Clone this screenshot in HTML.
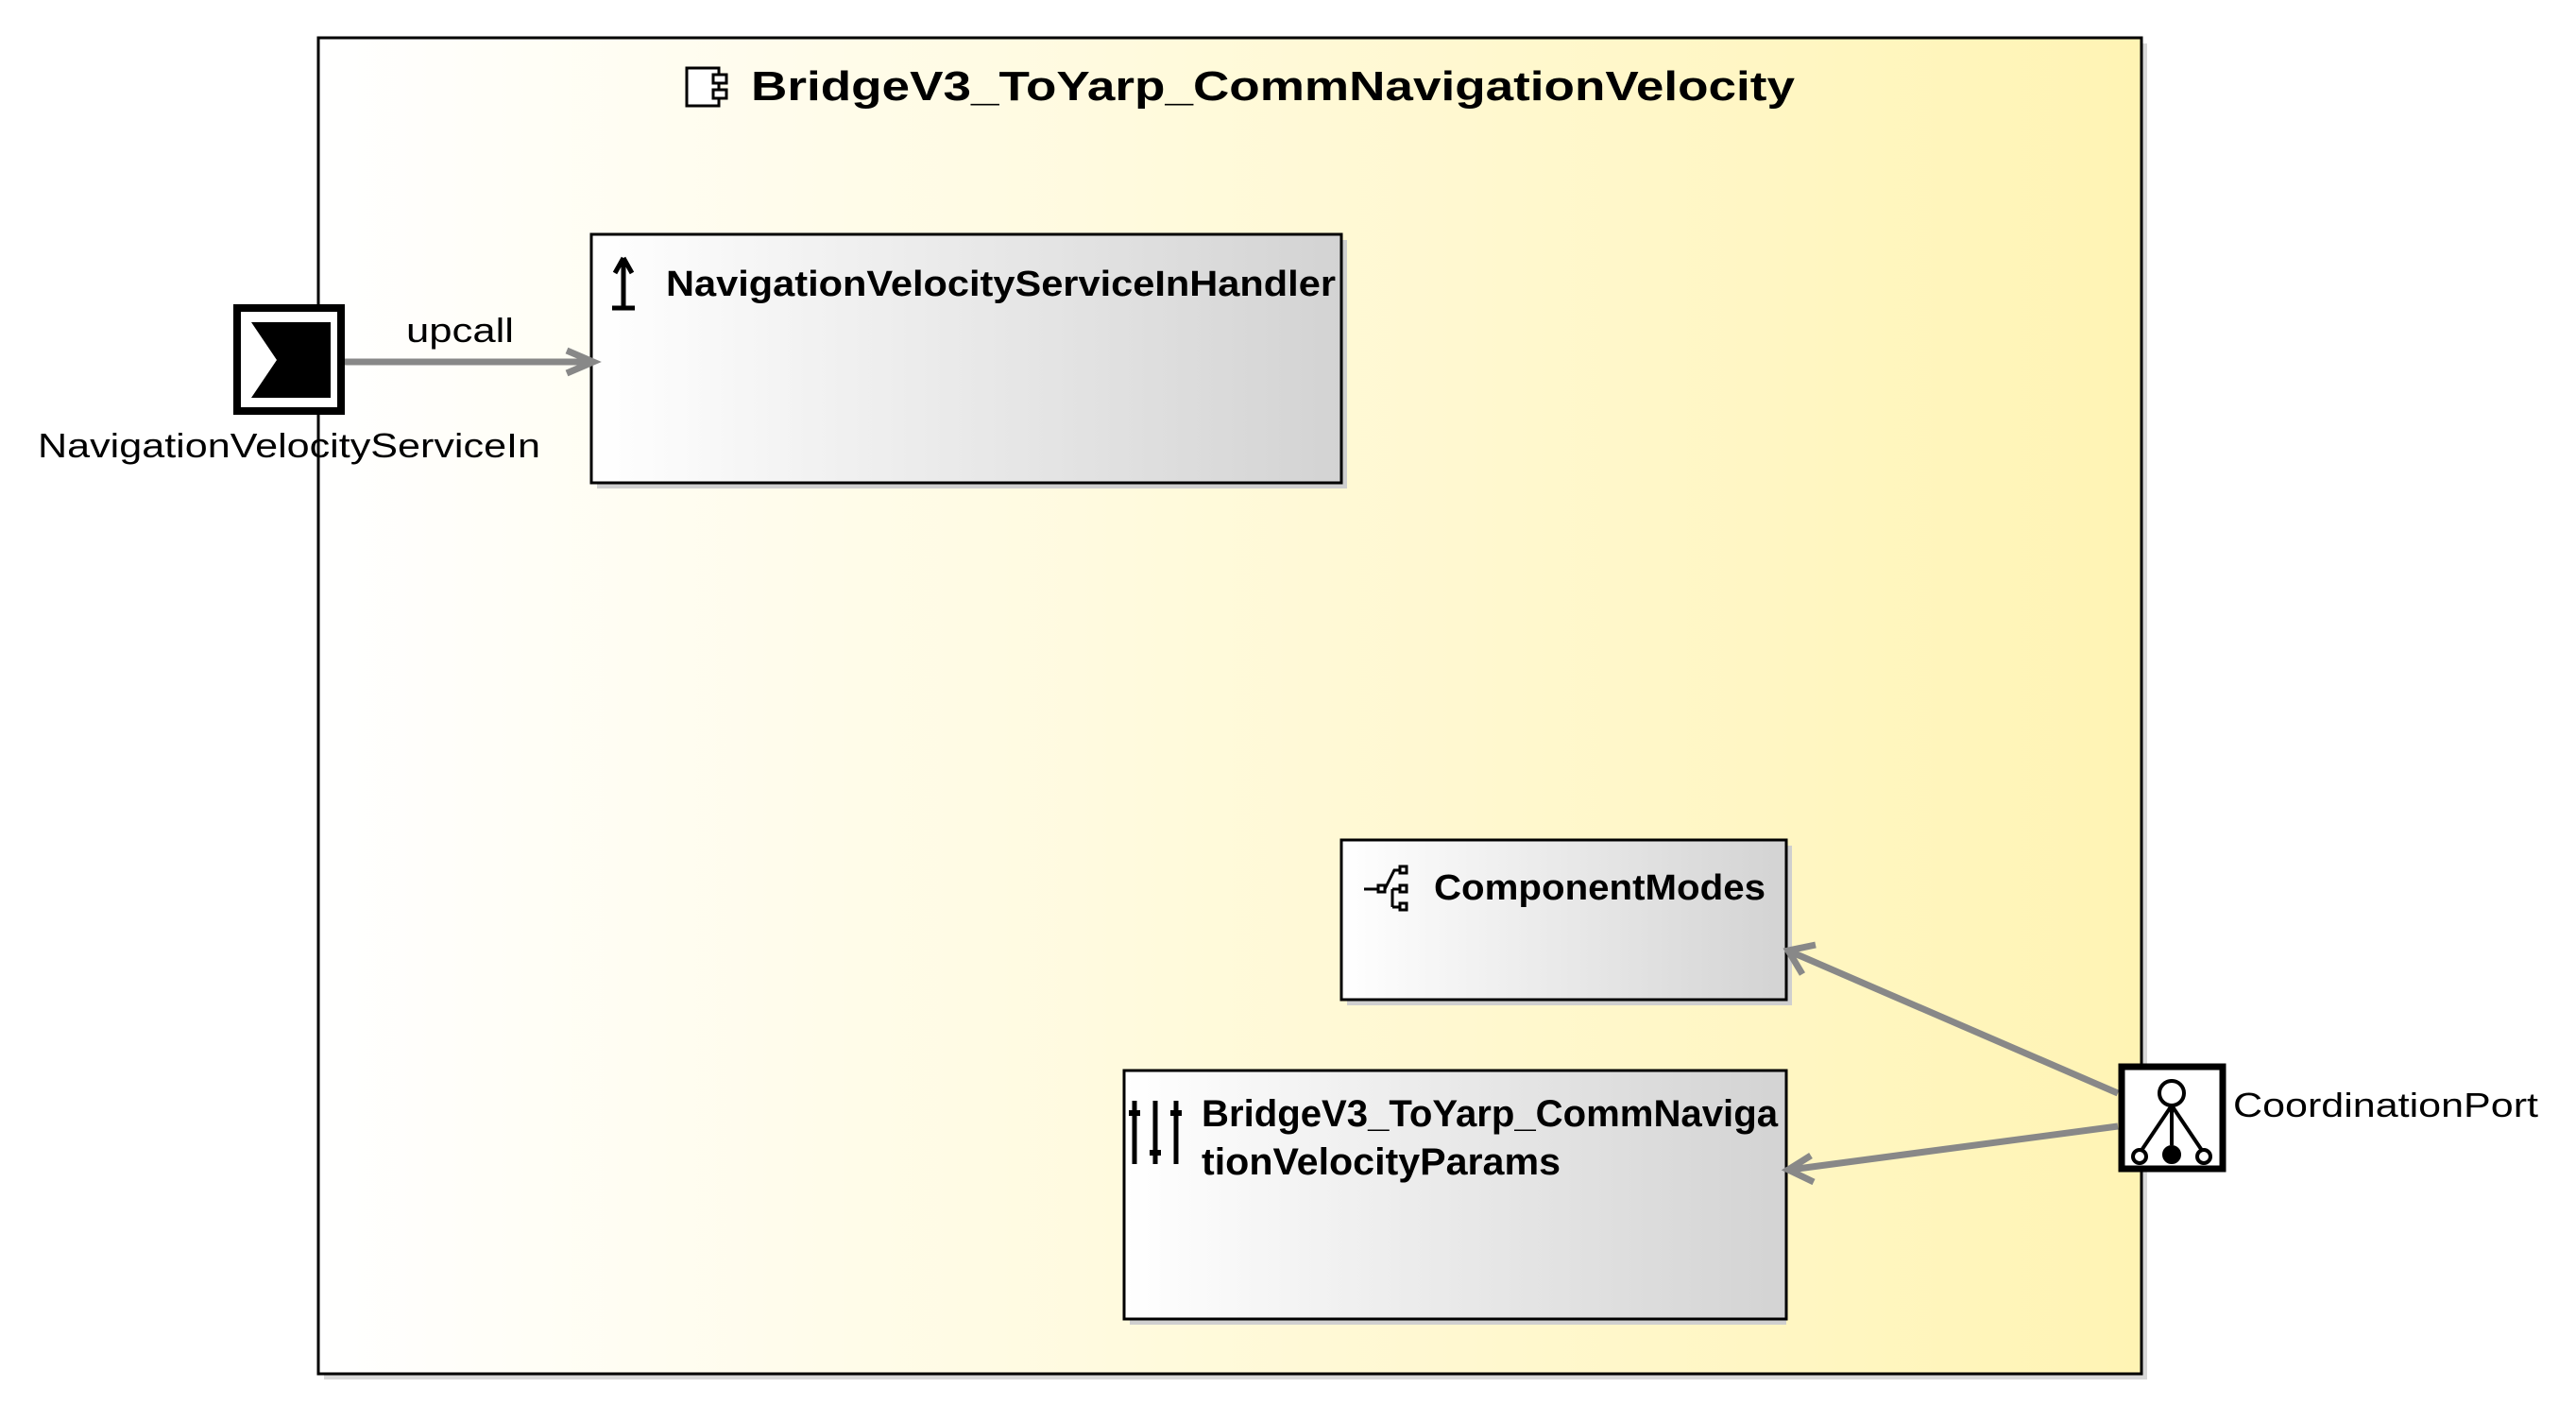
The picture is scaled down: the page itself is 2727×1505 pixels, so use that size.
<!DOCTYPE html>
<html><head><meta charset="utf-8"><style>html,body{margin:0;padding:0;background:#fff}svg{display:block}</style></head>
<body>
<svg width="2727" height="1505" viewBox="0 0 2727 1505" xmlns="http://www.w3.org/2000/svg" font-family="'Liberation Sans', sans-serif">
<defs>
<linearGradient id="yg" x1="0" x2="1" y1="0" y2="0"><stop offset="0" stop-color="#ffffff"/><stop offset="1" stop-color="#fff4b4"/></linearGradient>
<linearGradient id="gg" x1="0" x2="1" y1="0" y2="0"><stop offset="0" stop-color="#ffffff"/><stop offset="1" stop-color="#d3d3d3"/></linearGradient>
</defs>
<rect x="343" y="46" width="1930" height="1414" fill="#d8d8d8"/>
<rect x="337" y="40" width="1930" height="1414" fill="url(#yg)" stroke="#000" stroke-width="3"/>
<rect x="727" y="72" width="34" height="40" fill="#fff" stroke="#000" stroke-width="3"/>
<rect x="755" y="79" width="14" height="9" fill="#fff" stroke="#000" stroke-width="3"/>
<rect x="755" y="95" width="14" height="9" fill="#fff" stroke="#000" stroke-width="3"/>
<text x="795" y="106" font-size="44" font-weight="bold" textLength="1105" lengthAdjust="spacingAndGlyphs">BridgeV3_ToYarp_CommNavigationVelocity</text>

<rect x="632" y="254" width="794" height="263" fill="#cfcfcf"/>
<rect x="626" y="248" width="794" height="263" fill="url(#gg)" stroke="#000" stroke-width="3"/>
<path d="M660 274 V326 M648 326 H672 M660 273 L651 289 M660 273 L669 289" stroke="#000" stroke-width="5" fill="none"/>
<text x="705" y="313" font-size="38" font-weight="bold" textLength="709" lengthAdjust="spacingAndGlyphs">NavigationVelocityServiceInHandler</text>

<rect x="251" y="326" width="110" height="109" fill="#fff" stroke="#000" stroke-width="8"/>
<polygon points="266,341 350,341 350,421 266,421 293,381" fill="#000"/>
<text x="40" y="484" font-size="36" textLength="532" lengthAdjust="spacingAndGlyphs">NavigationVelocityServiceIn</text>
<text x="430" y="362" font-size="36" textLength="114" lengthAdjust="spacingAndGlyphs">upcall</text>
<path d="M365 383 H626" stroke="#888" stroke-width="7"/>
<path d="M600 371 L628 383 L600 395" stroke="#888" stroke-width="7" fill="none"/>

<rect x="1426" y="895" width="471" height="169" fill="#cfcfcf"/>
<rect x="1420" y="889" width="471" height="169" fill="url(#gg)" stroke="#000" stroke-width="3"/>
<g stroke="#000" stroke-width="3" fill="#fff">
<path d="M1444 941 H1458 M1466 941 L1476 921 H1482 M1474 941 H1482 M1474 960 H1482 M1474 941 V960" fill="none"/>
<rect x="1459" y="937" width="7" height="7"/><rect x="1482" y="917" width="7" height="7"/><rect x="1482" y="937" width="7" height="7"/><rect x="1482" y="956" width="7" height="7"/>
</g>
<text x="1518" y="952" font-size="38" font-weight="bold" textLength="351" lengthAdjust="spacingAndGlyphs">ComponentModes</text>

<rect x="1196" y="1139" width="695" height="263" fill="#cfcfcf"/>
<rect x="1190" y="1133" width="701" height="263" fill="url(#gg)" stroke="#000" stroke-width="3"/>
<g stroke="#000" stroke-width="5" fill="#000">
<path d="M1201 1165 V1232 M1223 1165 V1232 M1245 1165 V1232"/>
<path d="M1195 1178 H1207 M1217 1220 H1229 M1239 1178 H1251" stroke-width="6"/>
</g>
<text x="1272" y="1192" font-size="40" font-weight="bold" textLength="610" lengthAdjust="spacingAndGlyphs">BridgeV3_ToYarp_CommNaviga</text>
<text x="1272" y="1243" font-size="40" font-weight="bold" textLength="380" lengthAdjust="spacingAndGlyphs">tionVelocityParams</text>

<path d="M2242 1157 L1895 1007" stroke="#888" stroke-width="7"/>
<path d="M1908 1031 L1893 1006 L1922 1000" stroke="#888" stroke-width="7" fill="none"/>
<path d="M2242 1192 L1895 1238" stroke="#888" stroke-width="7"/>
<path d="M1917 1223 L1893 1238 L1920 1251" stroke="#888" stroke-width="7" fill="none"/>
<rect x="2246" y="1129" width="107" height="108" fill="#fff" stroke="#000" stroke-width="7"/>
<g stroke="#000" stroke-width="4" fill="#fff">
<path d="M2299 1170 L2266 1219 M2299 1170 L2299 1212 M2299 1170 L2332 1219" fill="none"/>
<circle cx="2299" cy="1157" r="13"/>
<circle cx="2265" cy="1224" r="7"/><circle cx="2299" cy="1222" r="8" fill="#000"/><circle cx="2333" cy="1224" r="7"/>
</g>
<text x="2364" y="1182" font-size="36" textLength="323" lengthAdjust="spacingAndGlyphs">CoordinationPort</text>
</svg>
</body></html>
